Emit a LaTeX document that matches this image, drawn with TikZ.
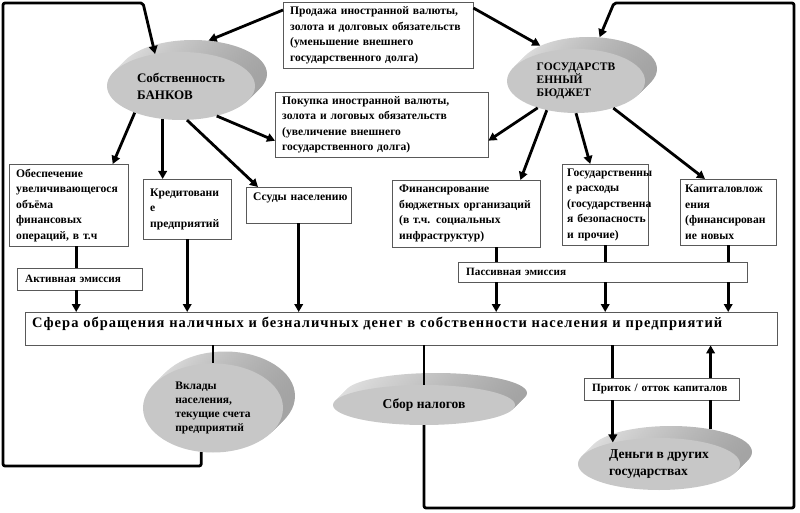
\documentclass[tikz,border=0pt]{standalone}
\usepackage{fontspec}
\setmainfont{Liberation Serif}
\usetikzlibrary{shapes.geometric,arrows.meta}

\definecolor{diskFace}{gray}{0.78}
\definecolor{diskLight}{gray}{0.88}
\definecolor{diskDark}{gray}{0.64}
\definecolor{boxLine}{gray}{0.35}

\newcommand{\boxfont}{\fontsize{11.6}{15.5}\selectfont\bfseries}
\newcommand{\labelfont}{\fontsize{11.2}{12}\selectfont\bfseries}
\newcommand{\spherefont}{\fontsize{14.5}{17}\selectfont\bfseries\addfontfeatures{LetterSpace=7}}

% extruded disk: side copies behind, named top copy, named front face
\newcommand{\diskNode}[7]{%
  \node (#1Top) [DiskSide, minimum width=#4, minimum height=#5] at (#2+12,#3-12) {};
  \foreach \s in {10,8,...,2}
    \node [DiskSide, minimum width=#4, minimum height=#5] at (#2+\s,#3-\s) {};
  \node (#1) [DiskFace, minimum width=#4, minimum height=#5, font=#6] at (#2,#3) {#7};
}

\begin{document}
\begin{tikzpicture}[x=1pt,y=-1pt]
		\tikzstyle{Box} = [rectangle, anchor=north west, draw=boxLine, fill=white, align=left, inner xsep=7pt, inner ysep=3pt, font=\boxfont]
		\tikzstyle{Label} = [rectangle, anchor=north west, draw=boxLine, fill=white, align=left, inner xsep=8pt, inner ysep=2pt, font=\labelfont]
		\tikzstyle{DiskSide} = [ellipse, inner sep=0pt, left color=diskLight, right color=diskDark]
		\tikzstyle{DiskFace} = [ellipse, inner sep=0pt, fill=diskFace, align=left]
		\tikzstyle{link} = [line width=2.8pt, line join=round]
		\tikzstyle{arrow} = [line width=2.8pt, line join=round, ->, >={Triangle[length=8pt,width=8.5pt]}]
		
		\useasboundingbox (0,0) rectangle (800,513);
		
		% disks
		\diskNode{banksNode}{181}{86}{148pt}{68pt}{\fontsize{13}{17}\selectfont\bfseries}{Собственность\\БАНКОВ}
		\diskNode{budgetNode}{576}{81}{138pt}{64pt}{\fontsize{11.5}{13}\selectfont\bfseries}{ГОСУДАРСТВ\\ЕННЫЙ\\БЮДЖЕТ}
		\diskNode{depositNode}{213}{408}{140pt}{89pt}{\fontsize{11.5}{14}\selectfont\bfseries}{Вклады\\населения,\\текущие счета\\предприятий}
		\diskNode{taxNode}{424}{405}{182pt}{40pt}{\fontsize{13.5}{16}\selectfont\bfseries}{Сбор налогов}
		\diskNode{moneyAbroadNode}{659}{464}{162pt}{52pt}{\fontsize{13.5}{17}\selectfont\bfseries}{Деньги в других\\государствах}
		
		% boxes
		\node (saleNode) [Box, text width=176pt, minimum height=66pt] at (283,2) {\makebox[165pt][s]{Продажа иностранной валюты,}\\золота и долговых обязательств\\(уменьшение внешнего\\государственного долга)};
		\node (purchaseNode) [Box, text width=199pt, minimum height=65pt] at (275,92) {\makebox[162pt][s]{Покупка иностранной валюты,}\\золота и логовых обязательств\\(увеличение внешнего\\государственного долга)};
		\node (supportNode) [Box, text width=105pt, minimum height=82pt] at (9,164) {Обеспечение\\увеличивающегося\\объёма\\финансовых\\операций, в т.ч};
		\node (creditNode) [Box, text width=74pt, minimum height=60pt] at (143,179) {Кредитовани\\е\\предприятий};
		\node (loansNode) [Box, text width=91pt, text height=10pt, text depth=20pt] at (246,187) {\mbox{Ссуды населению}};
		\node (financeNode) [Box, text width=134pt, minimum height=67pt] at (392,180) {Финансирование\\бюджетных организаций\\(в т.ч. социальных\\инфраструктур)};
		\node (expensesNode) [Box, inner xsep=5pt, text width=76pt, minimum height=81pt] at (562,164) {Государственны\\е расходы\\(государственна\\\mbox{я безопасность}\\и прочие)};
		\node (investNode) [Box, inner xsep=5pt, text width=86pt, minimum height=66pt] at (680,179) {Капиталовлож\\ения\\(финансирован\\ие новых};
		\node (activeNode) [Label, text width=109pt, minimum height=22pt] at (17,268) {Активная эмиссия};
		\node (passiveNode) [Label, text width=273pt, minimum height=20pt] at (458,262) {Пассивная эмиссия};
		\node (flowNode) [Label, text width=139pt, minimum height=22pt] at (584,378) {\mbox{Приток / отток капиталов}};
		\node (sphereNode) [Box, inner xsep=7pt, text width=738pt, text height=12pt, text depth=15pt, font=\spherefont] at (25,312) {Сфера обращения наличных и безналичных денег в собственности населения и предприятий};
		
		% loop corners
		\coordinate (loopLB) at (3,466);
		\coordinate (loopLT) at (3,3);
		\coordinate (loopLK) at (143,3);
		\coordinate (loopRB) at (794,508);
		\coordinate (loopRT) at (794,3);
		\coordinate (loopRK) at (614,3);
		
		% arrows into the disks
		\draw [arrow, rounded corners=2pt] (depositNode.255) |- (loopLB) -- (loopLT) -- (loopLK) -- (banksNode.129);
		\draw [arrow, rounded corners=2pt] (taxNode.south) |- (loopRB) -- (loopRT) -- (loopRK) -- (budgetNodeTop.70);
		\draw [arrow] ([yshift=-8pt]saleNode.north west) -- (banksNodeTop.65);
		\draw [arrow] ([yshift=-6pt]saleNode.north east) -- (budgetNodeTop.154);
		
		% from the banks
		\draw [arrow] (banksNode.210) -- ([xshift=44pt]supportNode.north);
		\draw [arrow] (banksNode.241) -- (banksNode.241 |- creditNode.north);
		\draw [arrow] (banksNode.280) -- ([xshift=12pt]loansNode.north west);
		\draw [arrow] (banksNode.320) -- ([yshift=-16pt]purchaseNode.west);
		
		% from the budget
		\draw [arrow] (budgetNode.215) -- ([yshift=-16pt]purchaseNode.east);
		\draw [arrow] (budgetNode.225) -- ([xshift=-20pt]financeNode.north east);
		\draw [arrow] (budgetNode.south) -- ([xshift=-15pt]expensesNode.north);
		\draw [arrow] (budgetNode.324) -- ([xshift=25pt]investNode.north west);
		
		% down to the sphere
		\draw [link] ([xshift=7.5pt]supportNode.south) -- ([xshift=7.5pt]supportNode.south |- activeNode.north);
		\draw [arrow] ([xshift=7.5pt]supportNode.south |- activeNode.south) -- ([xshift=7.5pt]supportNode.south |- sphereNode.north);
		\draw [arrow] (creditNode.south) -- (creditNode.south |- sphereNode.north);
		\draw [arrow] (loansNode.south) -- (loansNode.south |- sphereNode.north);
		\draw [link] ([xshift=30pt]financeNode.south) -- ([xshift=30pt]financeNode.south |- passiveNode.north);
		\draw [arrow] ([xshift=30pt]financeNode.south |- passiveNode.south) -- ([xshift=30pt]financeNode.south |- sphereNode.north);
		\draw [link] (expensesNode.south) -- (expensesNode.south |- passiveNode.north);
		\draw [arrow] (expensesNode.south |- passiveNode.south) -- (expensesNode.south |- sphereNode.north);
		\draw [link] (investNode.south) -- (investNode.south |- passiveNode.north);
		\draw [arrow] (investNode.south |- passiveNode.south) -- (investNode.south |- sphereNode.north);
		
		% below the sphere
		\draw [link] (depositNode.north |- sphereNode.south) -- (depositNode.north);
		\draw [link] (taxNode.north |- sphereNode.south) -- (taxNode.north);
		\draw [link] (moneyAbroadNode.155 |- sphereNode.south) -- (moneyAbroadNode.155 |- flowNode.north);
		\draw [arrow] (moneyAbroadNode.155 |- flowNode.south) -- (moneyAbroadNode.155);
		\draw [link] (moneyAbroadNodeTop.30) -- (moneyAbroadNodeTop.30 |- flowNode.south);
		\draw [arrow] (moneyAbroadNodeTop.30 |- flowNode.north) -- (moneyAbroadNodeTop.30 |- sphereNode.south);
		\end{tikzpicture}
\end{document}
